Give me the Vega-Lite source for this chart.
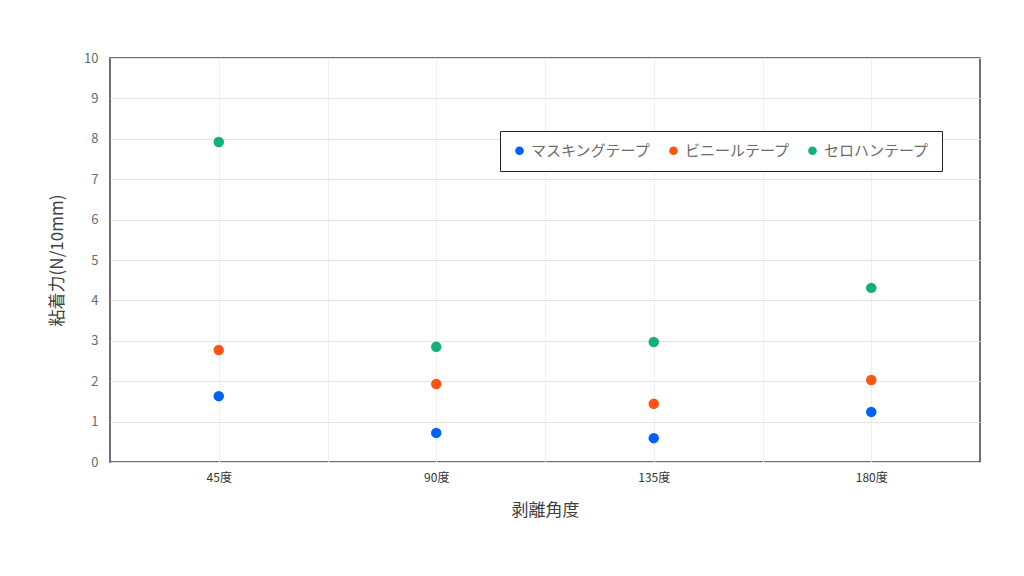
{
  "$schema": "https://vega.github.io/schema/vega-lite/v6.json",
  "width": 870,
  "height": 404,
  "autosize": {"type": "none"},
  "padding": {"left": 110, "top": 58, "right": 44, "bottom": 114},
  "background": "white",
  "config": {
    "font": "Noto Sans CJK JP",
    "view": {"stroke": "#404040", "strokeWidth": 1.5}
  },
  "data": {
    "values": [
      {"angle": 45, "tape": "マスキングテープ", "force": 1.63},
      {"angle": 45, "tape": "ビニールテープ", "force": 2.77},
      {"angle": 45, "tape": "セロハンテープ", "force": 7.92},
      {"angle": 90, "tape": "マスキングテープ", "force": 0.72},
      {"angle": 90, "tape": "ビニールテープ", "force": 1.93},
      {"angle": 90, "tape": "セロハンテープ", "force": 2.85},
      {"angle": 135, "tape": "マスキングテープ", "force": 0.59},
      {"angle": 135, "tape": "ビニールテープ", "force": 1.44},
      {"angle": 135, "tape": "セロハンテープ", "force": 2.97},
      {"angle": 180, "tape": "マスキングテープ", "force": 1.24},
      {"angle": 180, "tape": "ビニールテープ", "force": 2.03},
      {"angle": 180, "tape": "セロハンテープ", "force": 4.31}
    ]
  },
  "mark": {"type": "circle", "size": 110, "opacity": 1},
  "encoding": {
    "x": {
      "field": "angle",
      "type": "quantitative",
      "scale": {"domain": [22.5, 202.5], "nice": false, "zero": false},
      "axis": {
        "values": [45, 67.5, 90, 112.5, 135, 157.5, 180],
        "labelExpr": "datum.value % 45 == 0 ? datum.value + '度' : ''",
        "ticks": false,
        "domain": false,
        "grid": true,
        "gridColor": "#efefef",
        "labelFontSize": 12,
        "labelColor": "#333333",
        "labelPadding": 10,
        "title": "剥離角度",
        "titleFontSize": 17,
        "titleFontWeight": "normal",
        "titleColor": "#404040",
        "titleX": 435,
        "titleY": 48,
        "titleBaseline": "middle"
      }
    },
    "y": {
      "field": "force",
      "type": "quantitative",
      "scale": {"domain": [0, 10], "nice": false},
      "axis": {
        "values": [0, 1, 2, 3, 4, 5, 6, 7, 8, 9, 10],
        "ticks": false,
        "domain": false,
        "grid": true,
        "gridColor": "#e3e3e3",
        "labelFontSize": 13,
        "labelColor": "#6b6b6b",
        "labelPadding": 12,
        "title": "粘着力(N/10mm)",
        "titleFontSize": 17,
        "titleFontWeight": "normal",
        "titleColor": "#404040",
        "titleX": -53,
        "titleY": 202,
        "titleAngle": -90,
        "titleAlign": "center",
        "titleBaseline": "middle"
      }
    },
    "color": {
      "field": "tape",
      "type": "nominal",
      "sort": ["マスキングテープ", "ビニールテープ", "セロハンテープ"],
      "scale": {
        "domain": ["マスキングテープ", "ビニールテープ", "セロハンテープ"],
        "range": ["#0062f5", "#fc5412", "#12b07b"]
      },
      "legend": {
        "title": null,
        "orient": "none",
        "legendX": 390,
        "legendY": 73,
        "direction": "horizontal",
        "symbolType": "circle",
        "symbolSize": 75,
        "labelFontSize": 15,
        "labelColor": "#6b6b6b",
        "labelOffset": 4,
        "columnPadding": 14,
        "padding": 12,
        "strokeColor": "#222222",
        "fillColor": "white"
      }
    }
  }
}
